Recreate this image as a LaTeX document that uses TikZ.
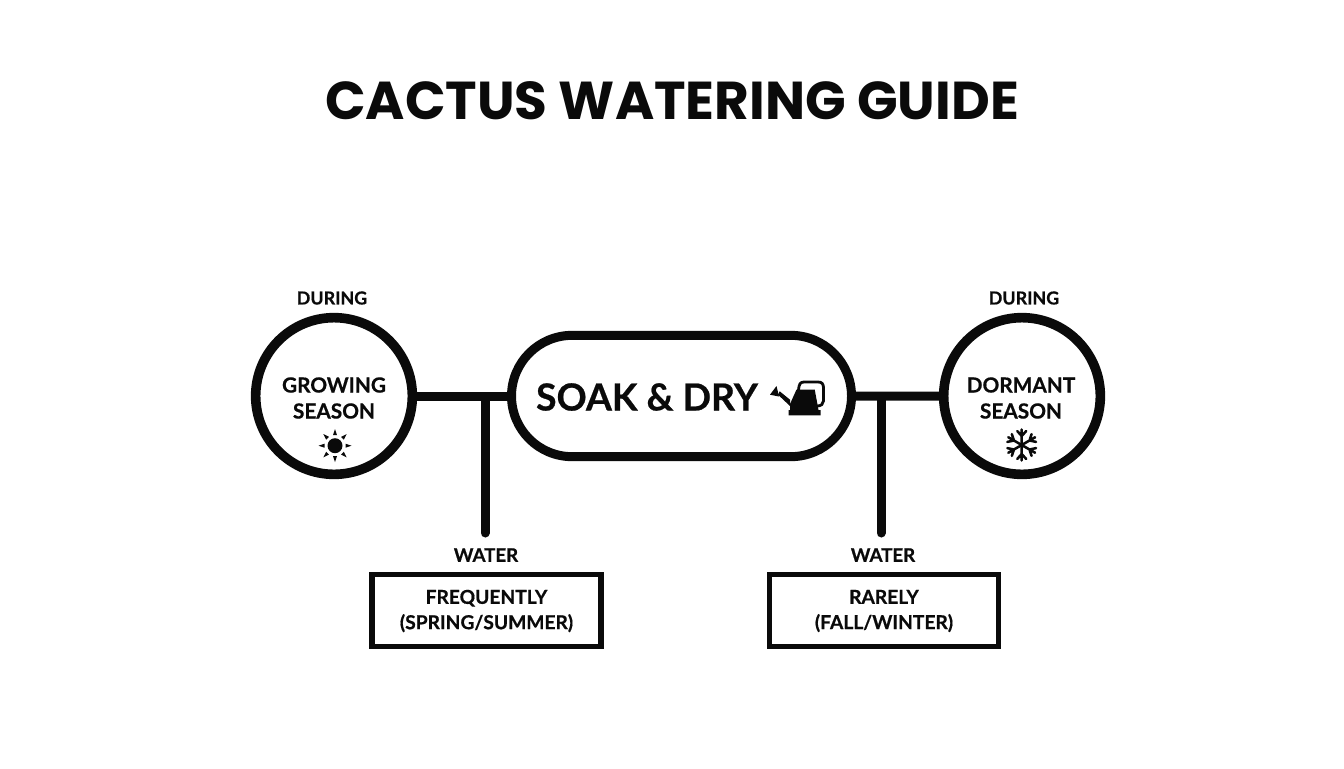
\documentclass[tikz,border=0pt]{standalone}
\usepackage{fontspec}
\setmainfont{Lato}[BoldFeatures={FakeBold=0.6}]
\newfontfamily\titlefont{Poppins}
\usetikzlibrary{shapes.misc}
\definecolor{inkblack}{HTML}{0A0A0A}
\tikzset{season/.style={circle,draw=inkblack,line width=7.2pt,minimum size=117.5pt,inner sep=0pt},
  soakpill/.style={rounded rectangle,draw=inkblack,line width=6.75pt,minimum width=255pt,minimum height=91pt,inner sep=0pt},
  amountbox/.style={rectangle,draw=inkblack,line width=4.2pt,minimum width=172pt,minimum height=54pt,inner sep=0pt},
  txt/.style={inner sep=0pt,text=inkblack,font=\bfseries,align=center},
  link/.style={-,draw=inkblack,line width=6.75pt}}
\begin{document}
\begin{tikzpicture}[x=0.75pt,y=-0.75pt]
\useasboundingbox (0,0) rectangle (1344,768);
\node (title) [txt,font=\titlefont\bfseries\fontsize{40}{40}\selectfont] at (672,101) {CACTUS WATERING GUIDE};
% shapes
\node (growing) [season] at (334,396) {};
\node (dormant) [season] at (1022,396) {};
\node (soak) [soakpill] at (681.5,396) {};
\node (frequently) [amountbox] at (486.5,610.5) {};
\node (rarely) [amountbox] at (884,610.5) {};
% labels
\node (during1) [txt,font=\bfseries\fontsize{13.4}{13.4}\selectfont] at (332,298) {DURING};
\node (during2) [txt,font=\bfseries\fontsize{13.4}{13.4}\selectfont] at (1024,298) {DURING};
\node (growingt) [txt,font=\bfseries\fontsize{15.6}{19.5}\selectfont] at (334,398) {GROWING\\SEASON};
\node (dormantt) [txt,font=\bfseries\fontsize{15.6}{19.5}\selectfont] at (1021,398) {DORMANT\\SEASON};
\node (soakt) [txt,font=\bfseries\fontsize{28}{28}\selectfont] at (647,397) {SOAK \& DRY};
\node (water1) [txt,font=\bfseries\fontsize{14}{14}\selectfont] at (486,555) {WATER};
\node (water2) [txt,font=\bfseries\fontsize{14}{14}\selectfont] at (883,555) {WATER};
\node (freqt) [txt,font=\bfseries\fontsize{14.4}{19}\selectfont] at (486.5,611) {FREQUENTLY\\(SPRING/SUMMER)};
\node (raret) [txt,font=\bfseries\fontsize{14.4}{19}\selectfont] at (884,611) {RARELY\\(FALL/WINTER)};
% connectors
\coordinate (j1) at (485,399);
\coordinate (j2) at (881,399);
\coordinate (e1) at (485,533);
\coordinate (e2) at (881,533);
\path[link](growing) edge (soak);
\path[link](soak) edge (dormant);
\path[link,line cap=round](j1) edge (e1);
\path[link,line cap=round](j2) edge (e2);
% sun
\fill[inkblack] (335,445.7) circle (7.5);
\foreach \a in {0,45,...,315}
  \fill[inkblack,shift={(335,445.7)},rotate=\a] (10.5,-2) -- (16.5,0) -- (10.5,2) -- cycle;
% snowflake
\foreach \a in {30,90,...,330}
  \draw[inkblack,line width=1.9pt,line cap=round,shift={(1021.7,445)},rotate=\a]
    (0,0) -- (15.5,0) (9,0) -- (14,-4.5) (9,0) -- (14,4.5);
% watering can
\fill[inkblack] (796.5,389.5) -- (814.7,389.5) -- (818.5,410) -- (820.5,410) -- (820.5,415.3) -- (788.5,415.3) -- (788.5,410) -- (790,410) -- (790,404) -- cycle;
\fill[inkblack] (790,399.7) -- (779.7,391.3) -- (778,394.7) -- (790,406) -- cycle;
\fill[inkblack] (770,394.7) -- (776.5,386) -- (779,396.5) -- cycle;
\draw[inkblack,line width=2.1pt] (798.5,390) .. controls (799,384.5) and (800,382) .. (804,382) -- (818,382) .. controls (822,382) and (823.5,384) .. (823.5,388) -- (823.5,401) .. controls (823.5,404) and (821,406) .. (817,406);
\end{tikzpicture}
\end{document}
